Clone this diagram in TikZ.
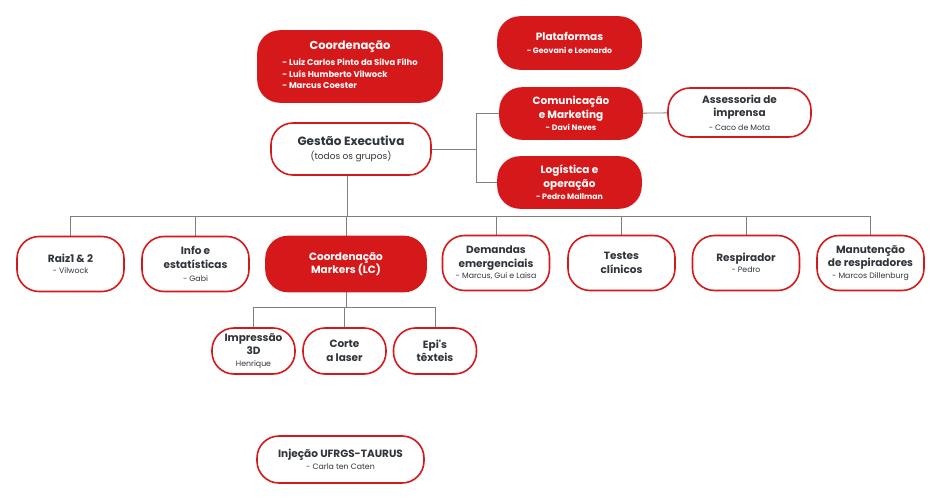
\documentclass[tikz,border=0pt]{standalone}
\usepackage{fontspec}
\setmainfont{Poppins}
\usetikzlibrary{backgrounds}
\definecolor{vermelho}{HTML}{D5191B}
\definecolor{texto}{HTML}{30353B}
\definecolor{linha}{HTML}{7F7F7F}
\newcommand{\nome}[1]{{\fontsize{7.8}{9}\selectfont #1}}

\begin{document}
\begin{tikzpicture}[x=1pt,y=-1pt]
      \tikzstyle{box}=[rectangle,rounded corners=22pt,draw=vermelho,
        line width=1.6pt,fill=white,text=texto,align=center,inner sep=0pt,
        minimum width=107pt,minimum height=55pt,
        font=\fontsize{10.5}{13.5}\selectfont]
      \tikzstyle{full}=[box,fill=vermelho,text=white]
      \tikzstyle{sub}=[box,minimum width=83pt,minimum height=46pt]
      \tikzstyle{ln}=[draw=linha,line width=0.9pt]

      \useasboundingbox (0,0) rectangle (942,500);

      % topo
      \node[full,minimum width=184pt,minimum height=71pt] (coord) at (350,66.5)
           {\bfseries\fontsize{11.5}{14}\selectfont Coordenação\\[4pt]
            {\bfseries\fontsize{8.4}{11.2}\selectfont
             \begin{tabular}{@{}l@{}}
             - Luiz Carlos Pinto da Silva Filho\\
             - Luís Humberto Vilwock\\
             - Marcus Coester
             \end{tabular}}};
      \node[full,minimum width=143pt,minimum height=52pt] (plat) at (569.5,43)
           {\bfseries Plataformas\\ \nome{\bfseries - Geovani e Leonardo}};
      \node[full,minimum width=142pt,minimum height=51pt] (com) at (571,113.5)
           {\bfseries Comunicação\\ \bfseries e Marketing\\[-1pt] \nome{\bfseries - Davi Neves}};
      \node[box,minimum width=143pt,minimum height=49pt] (asse) at (739.5,112.5)
           {\bfseries Assessoria de\\ \bfseries imprensa\\ \nome{- Caco de Mota}};
      \node[box,minimum width=160pt,minimum height=52pt] (ge) at (351,149)
           {\bfseries\fontsize{12}{15}\selectfont Gestão Executiva\\
            {\fontsize{9}{10}\selectfont (todos os grupos)}};
      \node[full,minimum width=143pt,minimum height=51pt] (log) at (569.5,182.5)
           {\bfseries Logística e\\ \bfseries operação\\[-1pt] \nome{\bfseries - Pedro Mallman}};

      % linha dos grupos
      \node[box] (raiz) at (70.5,264) {\bfseries Raiz1 \& 2\\[-3pt] \nome{- Vilwock}};
      \node[box] (info) at (195.5,264) {\bfseries Info e\\ \bfseries estatísticas\\ \nome{- Gabi}};
      \node[full,minimum width=160pt] (mk) at (346,264)
           {\bfseries Coordenação\\ \bfseries Markers (LC)};
      \node[box] (dem) at (496,263)
           {\bfseries Demandas\\ \bfseries emergenciais\\[-2pt] \nome{- Marcus, Gui e Laisa}};
      \node[box] (test) at (621.5,263) {\bfseries Testes\\ \bfseries clínicos};
      \node[box] (resp) at (746,263) {\bfseries Respirador\\[-2pt] \nome{- Pedro}};
      \node[box] (man) at (870.5,263)
           {\bfseries Manutenção\\ \bfseries de respiradores\\[-2pt] \nome{- Marcos Dillenburg}};

      % markers
      \node[sub] (imp) at (253.5,351) {\bfseries Impressão\\ \bfseries 3D\\[-2pt] \nome{Henrique}};
      \node[sub] (corte) at (344.5,351) {\bfseries Corte\\ \bfseries a laser};
      \node[sub] (epi) at (435,351) {\bfseries Epi\textquotesingle s\\ \bfseries têxteis};

      \node[box,minimum width=167pt,minimum height=47pt] (inj) at (340.5,459.5)
           {\bfseries Injeção UFRGS-TAURUS\\[-2pt] \nome{- Carla ten Caten}};

      \begin{scope}[on background layer]
        \coordinate (hub) at (476,149);
        \coordinate (bus) at (347,216);
        \coordinate (sb) at (346,307);

        \draw[ln] (ge) -- (hub) |- (com);
        \draw[ln] (hub) |- (log);
        \draw[ln] (com) -- (asse);

        \draw[ln] (bus |- ge.south) -- (bus);
        \foreach \g in {raiz,info,mk,dem,test,resp,man}
          \draw[ln] (bus) -| (\g);

        \draw[ln] (mk) -- (sb);
        \foreach \g in {imp,corte,epi}
          \draw[ln] (sb) -| (\g);
      \end{scope}
\end{tikzpicture}
\end{document}
